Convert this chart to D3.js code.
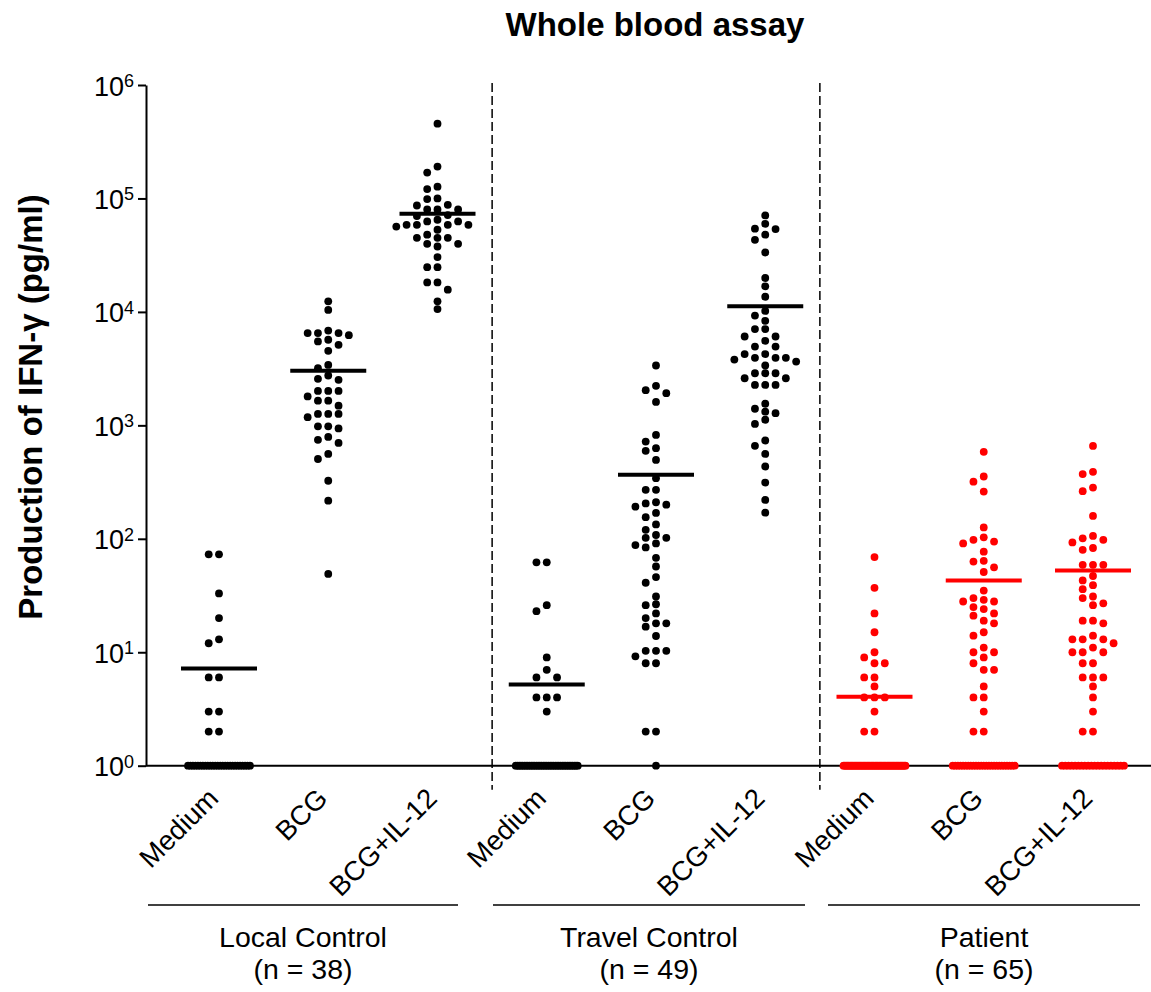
<!DOCTYPE html>
<html><head><meta charset="utf-8">
<script src="https://cdn.jsdelivr.net/npm/d3@7"></script>
<style>body{margin:0;background:#fff}svg{display:block}</style>
</head><body><svg id="chart" width="1151" height="992"></svg>
<script>
// ---------------- data ----------------
const title = "Whole blood assay";
const yLabel = "Production of IFN-\u03B3 (pg/ml)";
const groups = ["Local Control", "Travel Control", "Patient"];
const groupN = [38, 49, 65];
const categories = ["Medium", "BCG", "BCG+IL-12"];
const yTicks = [1, 10, 100, 1000, 10000, 100000, 1000000];
const tickExponents = ["0", "1", "2", "3", "4", "5", "6"];

const localMedium = [73, 73, 33, 20, 13, 12, 6, 6, 3, 3, 2, 2,
  1, 1, 1, 1, 1, 1, 1, 1, 1, 1, 1, 1, 1, 1, 1, 1, 1, 1, 1, 1, 1, 1, 1, 1, 1, 1];
const localBCG = [12400, 10400, 6500, 6500, 6500, 6850, 6240, 5680, 5490, 5130, 4540, 3410, 3190,
  2750, 2570, 2520, 2010, 2010, 2010, 1800, 1650, 1650, 1490, 1260, 1260, 1260, 1180, 980, 980,
  940, 790, 745, 700, 560, 505, 325, 217, 49];
const localBCGIL12 = [456000, 191000, 169000, 127000, 121000, 100000, 98800, 87900, 86700, 80000,
  80000, 80000, 71300, 70000, 64900, 62700, 62700, 58600, 58600, 58600, 58600, 56500, 53000, 47900,
  45000, 45000, 45000, 39800, 39800, 37700, 30400, 24800, 24800, 18200, 18200, 15700, 12400, 10600];

const travelMedium = [62, 62, 26, 23, 9, 7, 6, 6, 4, 4, 4, 3,
  1, 1, 1, 1, 1, 1, 1, 1, 1, 1, 1, 1, 1, 1, 1, 1, 1, 1, 1, 1, 1, 1, 1, 1, 1, 1, 1, 1, 1, 1,
  1, 1, 1, 1, 1, 1, 1];
const travelBCG = [3370, 2230, 2040, 1920, 1610, 824, 720, 629, 596, 496, 342, 270, 270, 210, 205,
  200, 192, 169, 155, 134, 120, 108, 102, 102, 91, 88, 84, 68, 57, 46, 41, 31, 26.5, 26, 22, 20,
  18, 18, 16.8, 13.9, 10.3, 10.3, 10.3, 9.2, 8, 8, 2, 2, 1];
const travelBCGIL12 = [70800, 59800, 54100, 53700, 47900, 43200, 33400, 19900, 16800, 13600, 10200,
  9290, 8340, 7050, 7050, 6070, 6070, 5560, 4950, 4950, 4250, 4250, 3940, 3940, 3940, 3800, 3650,
  3370, 2880, 2880, 2880, 2600, 2600, 2270, 2270, 2270, 1550, 1400, 1320, 1280, 1120, 1030, 735,
  660, 560, 434, 313, 220, 170];

const patientMedium = [69, 37, 22, 15, 10, 9, 8, 8, 6, 6, 5, 4, 4, 4, 3, 2, 2,
  1, 1, 1, 1, 1, 1, 1, 1, 1, 1, 1, 1, 1, 1, 1, 1, 1, 1, 1, 1, 1, 1, 1, 1, 1, 1, 1, 1, 1, 1,
  1, 1, 1, 1, 1, 1, 1, 1, 1, 1, 1, 1, 1, 1, 1, 1, 1, 1];
const patientBCG = [584, 354, 319, 261, 126, 103, 98, 94.5, 91, 77, 64, 63, 56, 51, 35, 30, 29, 28,
  28, 25, 24, 22, 21, 19, 18, 15, 14, 11, 10, 10, 9, 8, 7, 7, 5, 4, 4, 3, 2, 2,
  1, 1, 1, 1, 1, 1, 1, 1, 1, 1, 1, 1, 1, 1, 1, 1, 1, 1, 1, 1, 1, 1, 1, 1, 1];
const patientBCGIL12 = [659, 389, 372, 283, 263, 159, 106, 101, 98, 93, 83, 80, 59, 59, 59, 47, 43,
  39, 36, 31, 30, 27, 26, 19, 19, 18, 14, 13, 13, 13, 12, 11, 10, 10, 10, 8, 8, 6, 6, 6, 5, 4, 3,
  2, 2, 1, 1, 1, 1, 1, 1, 1, 1, 1, 1, 1, 1, 1, 1, 1, 1, 1, 1, 1, 1];

const centerLines = [7.2, 3030, 73300, 5.2, 366, 11200, 4.06, 42.8, 52.5];
const groupColors = ["#000000", "#000000", "#ff0000"];

// ---------------- drawing ----------------
const FONT = "'Liberation Sans', Arial, Helvetica, sans-serif";
const W = 1151, H = 992;
const axisX = 146, yTop = 85, yBottom = 765.7;
const svg = d3.select("#chart").style("font-family", FONT);

const series = [localMedium, localBCG, localBCGIL12, travelMedium, travelBCG, travelBCGIL12,
  patientMedium, patientBCG, patientBCGIL12];
const columns = series.map((vals, i) => ({
  vals, median: centerLines[i], group: Math.floor(i / 3), cat: categories[i % 3], idx: i
}));

const y = d3.scaleLog().domain([1, 1e6]).range([yBottom, yTop]);
const x = d3.scalePoint().domain(d3.range(columns.length)).range([219, 1093]);

// title
svg.append("text").attr("x", 655).attr("y", 36).attr("text-anchor", "middle")
  .attr("font-size", 33).attr("font-weight", "bold").text(title);

// y label
svg.append("text").attr("transform", "translate(42,407) rotate(-90)")
  .attr("text-anchor", "middle").attr("font-size", 33).attr("font-weight", "bold").text(yLabel);

// dashed group dividers
[2, 5].forEach(i => {
  const dx = (x(i) + x(i + 1)) / 2;
  svg.append("line").attr("x1", dx).attr("x2", dx).attr("y1", yTop - 2).attr("y2", yBottom + 24)
    .attr("stroke", "#000").attr("stroke-width", 1.5).attr("stroke-dasharray", "9,4");
});

// y axis
const yAxis = d3.axisLeft(y).tickValues(yTicks).tickSize(8).tickSizeOuter(0).tickPadding(4);
const gy = svg.append("g").attr("transform", `translate(${axisX},0)`).call(yAxis);
gy.select(".domain").attr("stroke-width", 2);
gy.selectAll(".tick line").attr("stroke-width", 2);
gy.selectAll(".tick text").each(function (d, i) {
  const t = d3.select(this);
  t.text(null).attr("font-size", 27).attr("font-family", FONT).attr("dy", null).attr("y", 10);
  t.append("tspan").text("10");
  t.append("tspan").attr("font-size", 18).attr("dy", -8.5).text(tickExponents[i]);
});

// x axis baseline
svg.append("line").attr("x1", axisX).attr("x2", W).attr("y1", y(1)).attr("y2", y(1))
  .attr("stroke", "#000").attr("stroke-width", 2);

// beeswarm layout
function swarm(values, cx) {
  const step = 10.3, minDy = 7.6, halfRow = 31;
  const ones = values.filter(v => v <= 1);
  const rest = values.filter(v => v > 1).sort((a, b) => b - a);
  const placed = [];
  rest.forEach(v => {
    const py = y(v);
    for (let k = 0; k < 30; k++) {
      const slot = k === 0 ? 0 : (k % 2 === 1 ? -Math.ceil(k / 2) : Math.ceil(k / 2));
      if (!placed.some(p => p.slot === slot && Math.abs(p.y - py) < minDy)) {
        placed.push({ slot, y: py });
        break;
      }
    }
  });
  const pts = placed.map(p => ({ x: cx + p.slot * step, y: p.y }));
  const n = ones.length;
  ones.forEach((v, i) => pts.push({ x: n > 1 ? cx - halfRow + 2 * halfRow * i / (n - 1) : cx, y: y(v) }));
  return pts;
}

const gCols = svg.append("g");
columns.forEach(c => {
  const cx = x(c.idx);
  const col = groupColors[c.group];
  gCols.append("g").selectAll("circle").data(swarm(c.vals, cx)).join("circle")
    .attr("cx", d => d.x).attr("cy", d => d.y).attr("r", 3.9).attr("fill", col);
  gCols.append("line").attr("x1", cx - 38).attr("x2", cx + 38)
    .attr("y1", y(c.median)).attr("y2", y(c.median))
    .attr("stroke", col).attr("stroke-width", 4);
  // category label
  svg.append("text").attr("transform", `translate(${cx + 1},800) rotate(-45)`)
    .attr("text-anchor", "end").attr("font-size", 27.5).text(c.cat);
});

// group underlines and labels
const groupSpans = [[148, 458], [493, 805], [828, 1140]];
groups.forEach((g, i) => {
  const [a, b] = groupSpans[i];
  svg.append("line").attr("x1", a).attr("x2", b).attr("y1", 905).attr("y2", 905)
    .attr("stroke", "#000").attr("stroke-width", 1.5);
  const t = svg.append("text").attr("text-anchor", "middle").attr("font-size", 28.5);
  t.append("tspan").attr("x", (a + b) / 2).attr("y", 947).text(g);
  t.append("tspan").attr("x", (a + b) / 2).attr("y", 979).text(`(n = ${groupN[i]})`);
});
</script></body></html>
